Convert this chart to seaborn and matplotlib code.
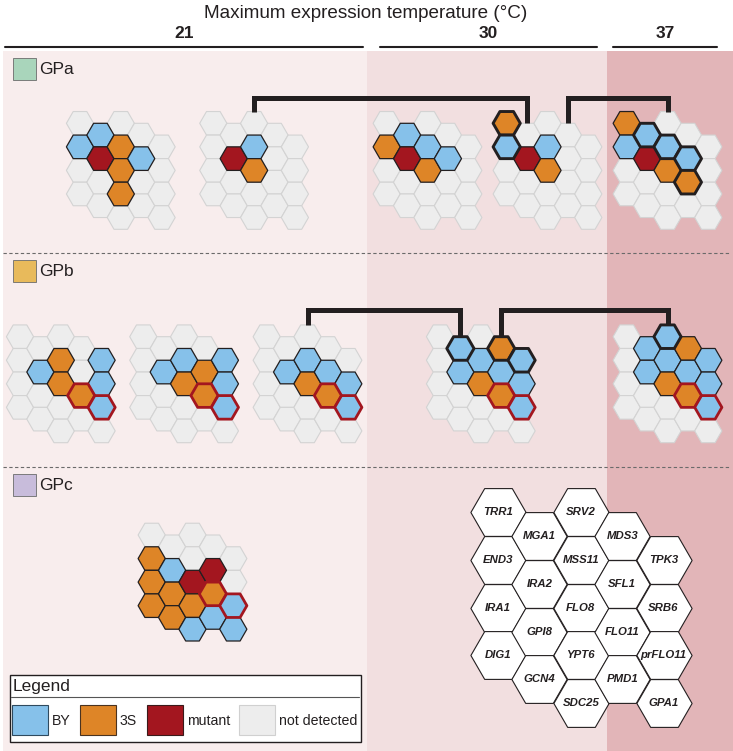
import numpy as np
import pandas as pd
import matplotlib
matplotlib.use('Agg')
import matplotlib.pyplot as plt
from matplotlib.patches import Rectangle
import seaborn as sns

# ---------------------------------------------------------------------------
# data
# ---------------------------------------------------------------------------
# hex grid layout of the 21 genes (column, row)
genes = ['TRR1', 'END3', 'IRA1', 'DIG1',
         'MGA1', 'IRA2', 'GPI8', 'GCN4',
         'SRV2', 'MSS11', 'FLO8', 'YPT6', 'SDC25',
         'MDS3', 'SFL1', 'FLO11', 'PMD1',
         'TPK3', 'SRB6', 'prFLO11', 'GPA1']
gene_col = [0, 0, 0, 0, 1, 1, 1, 1, 2, 2, 2, 2, 2, 3, 3, 3, 3, 4, 4, 4, 4]
gene_row = [0, 1, 2, 3, 0, 1, 2, 3, 0, 1, 2, 3, 4, 0, 1, 2, 3, 1, 2, 3, 4]

temps = ['21', '30', '37']
groups = ['GPa', 'GPb', 'GPc']
group_colors = ['#a9d5bb', '#e8ba5b', '#c8bcdb']

# genotypes (genes not listed = not detected)
gpa_21a = {'END3': 'BY', 'MGA1': 'BY', 'IRA2': 'mutant', 'MSS11': '3S',
           'FLO8': '3S', 'YPT6': '3S', 'SFL1': 'BY'}
gpa_21b = {'IRA2': 'mutant', 'MSS11': 'BY', 'FLO8': '3S'}
gpa_30a = {'END3': '3S', 'MGA1': 'BY', 'IRA2': 'mutant', 'MSS11': 'BY',
           'FLO8': '3S', 'SFL1': 'BY'}
gpa_30b = {'TRR1': '3S', 'END3': 'BY', 'IRA2': 'mutant', 'MSS11': 'BY',
           'FLO8': '3S'}
gpa_37 = {'TRR1': '3S', 'END3': 'BY', 'MGA1': 'BY', 'IRA2': 'mutant',
          'MSS11': 'BY', 'FLO8': '3S', 'SFL1': 'BY', 'FLO11': '3S'}

gpb_21a = {'IRA2': 'BY', 'MSS11': '3S', 'FLO8': '3S', 'FLO11': '3S',
           'TPK3': 'BY', 'SRB6': 'BY', 'prFLO11': 'BY'}
gpb_21b = {'IRA2': 'BY', 'MSS11': 'BY', 'FLO8': '3S', 'SFL1': '3S',
           'FLO11': '3S', 'TPK3': 'BY', 'SRB6': 'BY', 'prFLO11': 'BY'}
gpb_21c = {'IRA2': 'BY', 'MSS11': 'BY', 'FLO8': '3S', 'SFL1': 'BY',
           'FLO11': '3S', 'SRB6': 'BY', 'prFLO11': 'BY'}
gpb_30 = {'MGA1': 'BY', 'IRA2': 'BY', 'MSS11': 'BY', 'FLO8': '3S',
          'MDS3': '3S', 'SFL1': 'BY', 'FLO11': '3S', 'TPK3': 'BY',
          'SRB6': 'BY', 'prFLO11': 'BY'}
gpb_37 = {'SRV2': 'BY', 'MGA1': 'BY', 'IRA2': 'BY', 'MSS11': 'BY',
          'FLO8': '3S', 'MDS3': '3S', 'SFL1': 'BY', 'FLO11': '3S',
          'TPK3': 'BY', 'SRB6': 'BY', 'prFLO11': 'BY'}

gpc_21 = {'END3': '3S', 'IRA1': '3S', 'DIG1': '3S', 'IRA2': 'BY',
          'GPI8': '3S', 'GCN4': '3S', 'FLO8': 'mutant', 'YPT6': '3S',
          'SDC25': 'BY', 'SFL1': 'mutant', 'FLO11': '3S', 'PMD1': 'BY',
          'prFLO11': 'BY', 'GPA1': 'BY'}

# genes drawn with a thick outline / red (cis) outline
thick_30b = ['TRR1', 'END3']
thick_gpa37 = ['MGA1', 'MSS11', 'SFL1', 'FLO11']
thick_gpb30 = ['MGA1', 'MDS3', 'TPK3']
thick_gpb37 = ['SRV2']
red_genes = ['FLO11', 'prFLO11']

legend_labels = ['BY', '3S', 'mutant', 'not detected']
allele_colors = {'BY': '#86c1ea', '3S': '#de8527', 'mutant': '#a3161f',
                 'nd': '#ededed'}

# ---------------------------------------------------------------------------
W, H = 733, 751
sns.set_theme(style='white')
plt.rcParams['font.family'] = ['Liberation Sans', 'DejaVu Sans']

fig = plt.figure(figsize=(W / 100, H / 100), dpi=100)
ax = fig.add_axes([0, 0, 1, 1])
ax.set_xlim(0, W)
ax.set_ylim(H, 0)
ax.axis('off')

PT = 0.72  # points per pixel at dpi 100
R = 13.6


def cells(x0, y0, alleles, r=R, thick=(), red=()):
    colw = 1.5 * r
    rowh = np.sqrt(3) * r
    c = np.array(gene_col)
    rr = np.array(gene_row)
    df = pd.DataFrame({'gene': genes,
                       'x': x0 + c * colw,
                       'y': y0 + rr * rowh + (c % 2) * rowh / 2})
    df['allele'] = [alleles.get(g, 'nd') for g in genes]
    df['style'] = 'grey'
    df.loc[df['allele'] != 'nd', 'style'] = 'dark'
    df.loc[df['gene'].isin(red) & (df['allele'] != 'nd'), 'style'] = 'red'
    df.loc[df['gene'].isin(thick), 'style'] = 'thick'
    return df


def hex_top(x0, y0, col, r=R):
    rowh = np.sqrt(3) * r
    return x0 + col * 1.5 * r, y0 + (col % 2) * rowh / 2 - rowh / 2


# background bands
bands = [(3, 367, '#f8eded'), (367, 607, '#f2dfe0'), (607, 733, '#e2b5b8')]
for x1, x2, col in bands:
    ax.fill_between([x1, x2], 51, H, color=col, lw=0, zorder=0)

# header
ax.text(366, 13, 'Maximum expression temperature (°C)', ha='center',
        va='center', fontsize=13.6, color='#231f20')
header = [(5, 363), (380, 597), (613, 717)]
for t, (x1, x2) in zip(temps, header):
    ax.text((x1 + x2) / 2, 34, t, ha='center', va='center', fontsize=12.5,
            fontweight='bold', color='#231f20')
    ax.plot([x1, x2], [46.5, 46.5], color='#231f20', lw=1.5, zorder=3)

# dashed separators
for yy in [252.7, 467]:
    ax.plot([3, 731], [yy, yy], color='#6a6a6a', lw=0.8, ls=(0, (3, 2.2)),
            zorder=1)

# group labels
for g, gc, yy in zip(groups, group_colors, [69, 271, 485]):
    ax.add_patch(Rectangle((13, yy - 11), 23, 22, facecolor=gc,
                           edgecolor='#6b6b6b', lw=0.6, zorder=2))
    ax.text(39, yy + 1, g, ha='left', va='center', fontsize=12.5,
            color='#231f20')

# small hex diagrams
diagrams = [
    cells(80, 123.3, gpa_21a),
    cells(213.3, 123.3, gpa_21b),
    cells(386.7, 123.3, gpa_30a),
    cells(506.7, 123.3, gpa_30b, thick=thick_30b),
    cells(626.7, 123.3, gpa_37, thick=thick_gpa37),
    cells(20, 336.7, gpb_21a, red=red_genes),
    cells(143.3, 336.7, gpb_21b, red=red_genes),
    cells(266.7, 336.7, gpb_21c, red=red_genes),
    cells(440, 336.7, gpb_30, thick=thick_gpb30, red=red_genes),
    cells(626.7, 336.7, gpb_37, thick=thick_gpb37, red=red_genes),
    cells(151.7, 535, gpc_21, red=red_genes),
]
all_cells = pd.concat(diagrams, ignore_index=True)

S = (2 * R * PT) ** 2
styles = {'grey': ('#d3d3d3', 0.8, 2),
          'dark': ('#231f20', 0.9, 3),
          'red': ('#a3161f', 2.0, 4),
          'thick': ('#231f20', 2.1, 5)}
for st, (ec, lw, z) in styles.items():
    sub = all_cells[all_cells['style'] == st]
    if len(sub) == 0:
        continue
    sns.scatterplot(data=sub, x='x', y='y', hue='allele',
                    palette=allele_colors, marker='H', s=S, edgecolor=ec,
                    linewidth=lw, legend=False, ax=ax, zorder=z)
ax.set_xlim(0, W)
ax.set_ylim(H, 0)

# brackets linking diagrams
origins = {'a2': (213.3, 123.3), 'a4': (506.7, 123.3), 'a5': (626.7, 123.3),
           'b3': (266.7, 336.7), 'b4': (440, 336.7), 'b5': (626.7, 336.7)}
links = [('a2', 2, 'a4', 1, 98), ('a4', 3, 'a5', 2, 98),
         ('b3', 2, 'b4', 1, 310), ('b4', 3, 'b5', 2, 310)]
for d1, c1, d2, c2, ytop in links:
    xa, ya = hex_top(*origins[d1], c1)
    xb, yb = hex_top(*origins[d2], c2)
    ax.plot([xa, xa, xb, xb], [ya, ytop, ytop, yb], color='#231f20',
            lw=3.6, solid_joinstyle='miter', solid_capstyle='butt', zorder=6)

# gene key (big hex grid)
RK = 27.6
key = cells(498, 512, {}, r=RK)
sns.scatterplot(data=key, x='x', y='y', marker='H', s=(2 * RK * PT) ** 2,
                color='white', edgecolor='#231f20', linewidth=0.8,
                legend=False, ax=ax, zorder=3)
for _, row in key.iterrows():
    ax.text(row['x'], row['y'], row['gene'], ha='center', va='center',
            fontsize=8.2, fontweight='bold', fontstyle='italic',
            color='#231f20', zorder=4)
ax.set_xlim(0, W)
ax.set_ylim(H, 0)

# legend box
ax.add_patch(Rectangle((9.5, 675), 351, 67, facecolor='white',
                       edgecolor='#231f20', lw=1.0, zorder=7))
ax.text(13, 687, 'Legend', ha='left', va='center', fontsize=12.5,
        color='#231f20', zorder=8)
ax.plot([11, 359], [696.5, 696.5], color='#555555', lw=0.8, zorder=8)
sw_x = [12, 80, 147, 239]
lab_colors = [allele_colors['BY'], allele_colors['3S'],
              allele_colors['mutant'], allele_colors['nd']]
sw_edges = ['#2f4a5e', '#4a3320', '#3a1a1a', '#d0d0d0']
for xs, lab, fc, ec in zip(sw_x, legend_labels, lab_colors, sw_edges):
    ax.add_patch(Rectangle((xs, 705), 36, 30, facecolor=fc, edgecolor=ec,
                           lw=0.8, zorder=8))
    ax.text(xs + 40, 721, lab, ha='left', va='center', fontsize=10.2,
            color='#231f20', zorder=8)

fig.savefig('out.png', dpi=100)
